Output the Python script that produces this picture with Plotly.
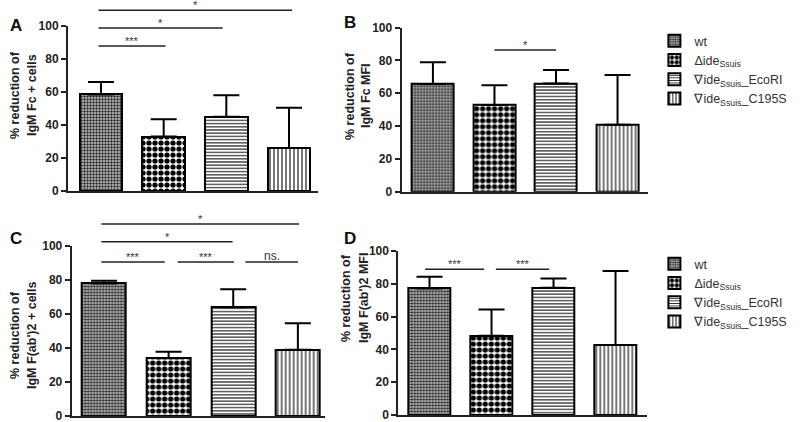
import plotly.graph_objects as go

# ---------------- data ----------------
groups = ["wt", "Δide<sub>Ssuis</sub>", "∇ide<sub>Ssuis</sub>_EcoRI", "∇ide<sub>Ssuis</sub>_C195S"]
cats = [0, 1, 2, 3]

a_vals = [58.5, 33.0, 45.0, 26.0]
a_err = [7.5, 10.5, 13.0, 24.5]

b_vals = [65.7, 52.9, 66.0, 40.8]
b_err = [13.3, 12.0, 8.2, 30.3]

c_vals = [78.0, 34.0, 63.9, 39.0]
c_err = [1.5, 3.8, 10.6, 15.5]

d_vals = [77.2, 48.4, 77.6, 42.7]
d_err = [7.1, 16.0, 5.7, 45.1]

a_title = ["% reduction of", "IgM Fc + cells"]
b_title = ["% reduction of", "IgM Fc MFI"]
c_title = ["% reduction of", "IgM F(ab')2 + cells"]
d_title = ["% reduction of", "IgM F(ab')2 MFI"]

# significance brackets: (x0, x1, y in axis-domain fraction, label)
a_sig = [(-0.04, 3.05, 1.095, "*"), (-0.04, 1.94, 0.988, "*"), (-0.04, 1.03, 0.879, "***")]
b_sig = [(1.0, 2.0, 0.864, "*")]
c_sig = [(-0.04, 3.02, 1.129, "*"), (-0.04, 1.99, 1.025, "*"),
         (-0.04, 0.94, 0.906, "***"), (1.14, 2.01, 0.906, "***"), (2.19, 3.0, 0.906, "ns.")]
d_sig = [(-0.07, 0.88, 0.888, "***"), (1.07, 1.93, 0.888, "***")]

patterns = [
    dict(shape=".", size=3, solidity=0.5, fgcolor="#2a2a2a", bgcolor="#c8c8c8", fgopacity=1, fillmode="overlay"),
    dict(shape=".", size=6, solidity=0.6, fgcolor="#000000", bgcolor="#ffffff", fgopacity=1, fillmode="overlay"),
    dict(shape="-", size=3.2, solidity=0.35, fgcolor="#1a1a1a", bgcolor="#ffffff", fgopacity=1, fillmode="overlay"),
    dict(shape="|", size=4, solidity=0.3, fgcolor="#1a1a1a", bgcolor="#ffffff", fgopacity=1, fillmode="overlay"),
]

FONT = "Liberation Sans, Arial, sans-serif"

fig = go.Figure()

panels = [
    dict(vals=a_vals, err=a_err, xa="x", ya="y", legend=None),
    dict(vals=b_vals, err=b_err, xa="x2", ya="y2", legend="legend"),
    dict(vals=c_vals, err=c_err, xa="x3", ya="y3", legend=None),
    dict(vals=d_vals, err=d_err, xa="x4", ya="y4", legend="legend2"),
]

for p in panels:
    for i in range(4):
        kw = {}
        if p["legend"]:
            kw["legend"] = p["legend"]
        fig.add_trace(go.Bar(
            x=[cats[i]], y=[p["vals"][i]], name=groups[i], width=0.68,
            xaxis=p["xa"], yaxis=p["ya"],
            marker=dict(color="white", line=dict(color="black", width=2), pattern=patterns[i]),
            error_y=dict(type="data", symmetric=False, array=[p["err"][i]], arrayminus=[0],
                         color="black", thickness=2, width=13),
            showlegend=bool(p["legend"]), **kw))

domains = {
    "": ([0.085, 0.3975], [0.5474, 0.9384], [-0.527, 3.463]),
    "2": ([0.502, 0.8104], [0.5457, 0.9344], [-0.509, 3.5]),
    "3": ([0.0896, 0.40625], [0.0142, 0.4171], [-0.5, 3.42]),
    "4": ([0.4979, 0.8084], [0.0166, 0.4052], [-0.503, 3.503]),
}

layout = dict(
    width=800, height=422, margin=dict(l=0, r=0, t=0, b=0, autoexpand=False),
    paper_bgcolor="white", plot_bgcolor="white",
    font=dict(family=FONT, color="#222222"),
    bargap=0, barmode="overlay",
)
for k, (xd, yd, xr) in domains.items():
    layout["xaxis" + k] = dict(domain=xd, range=xr, anchor="y" + k, showticklabels=False,
                               showline=True, linecolor="#222222", linewidth=2, ticks="",
                               showgrid=False, zeroline=False, fixedrange=True, automargin=False)
    layout["yaxis" + k] = dict(domain=yd, range=[0, 100], anchor="x" + k, dtick=20,
                               showline=True, linecolor="#222222", linewidth=2,
                               ticks="outside", ticklen=5, tickwidth=2, tickcolor="#222222",
                               tickfont=dict(size=12, family=FONT, weight="bold", color="#222222"),
                               ticklabeloverflow="allow",
                               showgrid=False, zeroline=False, automargin=False)

layout["legend"] = dict(x=0.818, y=1 - 26 / 422, xanchor="left", yanchor="top",
                        font=dict(size=12.5, family=FONT, color="#333333"),
                        bgcolor="rgba(0,0,0,0)", tracegroupgap=0)
layout["legend2"] = dict(x=0.818, y=1 - 249 / 422, xanchor="left", yanchor="top",
                         font=dict(size=12.5, family=FONT, color="#333333"),
                         bgcolor="rgba(0,0,0,0)", tracegroupgap=0)
fig.update_layout(**layout)

shapes = []
annots = []
for sig, k in [(a_sig, ""), (b_sig, "2"), (c_sig, "3"), (d_sig, "4")]:
    for x0, x1, yy, lab in sig:
        shapes.append(dict(type="line", xref="x" + k, yref=("y" + k) + " domain",
                           x0=x0, x1=x1, y0=yy, y1=yy, line=dict(color="#222222", width=1.5)))
        annots.append(dict(xref="x" + k, yref=("y" + k) + " domain", x=(x0 + x1) / 2, y=yy,
                           text=lab, showarrow=False, yanchor="bottom", yshift=-3,
                           font=dict(size=11 if lab != "ns." else 12, family=FONT, color="#333333")))

# panel letters
for lab, x, y in [("A", 16, 25), ("B", 350, 23), ("C", 16, 238), ("D", 350, 238)]:
    annots.append(dict(xref="paper", yref="paper", x=x / 800, y=1 - y / 422, text="<b>" + lab + "</b>",
                       showarrow=False, xanchor="center", yanchor="middle",
                       font=dict(size=17, family=FONT, color="#111111")))

# axis titles (two rotated lines)
for t, x1, x2, yc in [(a_title, 15, 32, 95), (b_title, 350, 366, 96),
                      (c_title, 15, 32, 335), (d_title, 346, 364, 298)]:
    for txt, xx in [(t[0], x1), (t[1], x2)]:
        annots.append(dict(xref="paper", yref="paper", x=xx / 800, y=1 - yc / 422,
                           text="<b>" + txt + "</b>", showarrow=False, textangle=-90,
                           xanchor="center", yanchor="middle",
                           font=dict(size=12.5, family=FONT, color="#222222")))

fig.update_layout(shapes=shapes, annotations=annots)
fig.write_html("out.html", config={"displayModeBar": False},
               post_script="document.body.style.margin='0px';document.body.style.padding='0px';")
